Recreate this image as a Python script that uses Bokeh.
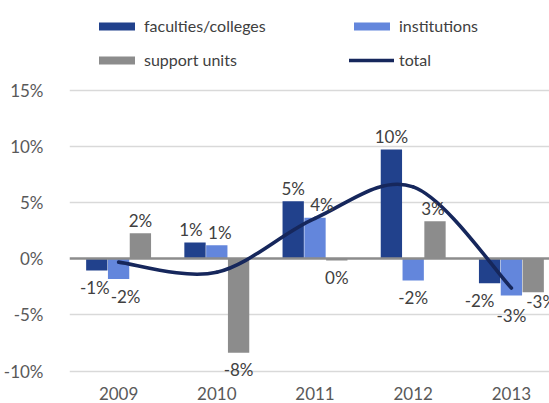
import numpy as np
from bokeh.plotting import figure
from bokeh.models import (ColumnDataSource, Range1d, FixedTicker, PrintfTickFormatter,
                          Legend, LegendItem)
from bokeh.embed import file_html
from bokeh.resources import INLINE
from bokeh.core.properties import value

# ---- data ----
years = ["2009", "2010", "2011", "2012", "2013"]
faculties = [-1.04, 1.45, 5.12, 9.72, -2.17]
institutions = [-1.80, 1.21, 3.65, -1.93, -3.27]
support = [2.28, -8.36, -0.15, 3.35, -2.97]
total = [-0.3, -1.2, 3.6, 6.4, -2.6]

# label nudges (px) to mimic the reference's label placement
nudge_x = {"fac": [-2, -4, 0, 0, -10], "ins": [7, 3, 7, 0, 0], "sup": [0, 0, 0, -2, 8]}
nudge_y = {"fac": [0, 0, 0, 0, 0], "ins": [0, 0, 0, 0, 3], "sup": [0, 0, 0, 0, -8]}

C_FAC = "#21418c"
C_INS = "#6386dc"
C_SUP = "#8c8c8c"
C_TOT = "#16275c"
FONT = "Lato"

x = np.arange(len(years))
p = figure(width=549, height=403, output_backend="svg", toolbar_location=None,
           x_range=Range1d(-0.5, 4.388), y_range=Range1d(-10.83, 22.98),
           min_border_left=67, min_border_right=0, min_border_top=0, min_border_bottom=23)
p.outline_line_color = None
p.background_fill_color = None
p.border_fill_color = None

# axes
p.xaxis.ticker = FixedTicker(ticks=list(x))
p.xaxis.major_label_overrides = {int(i): y for i, y in zip(x, years)}
p.yaxis.ticker = FixedTicker(ticks=[-10, -5, 0, 5, 10, 15])
p.yaxis.formatter = PrintfTickFormatter(format="%d%%")
for ax in (p.xaxis[0], p.yaxis[0]):
    ax.axis_line_color = None
    ax.major_tick_line_color = None
    ax.minor_tick_line_color = None
    ax.major_label_text_font = FONT
    ax.major_label_text_font_size = "17px"
    ax.major_label_text_color = "#595959"
p.yaxis.major_label_standoff = 20
p.xaxis.major_label_standoff = 0
p.xgrid.grid_line_color = None
p.ygrid.grid_line_color = "#d9d9d9"
p.ygrid.grid_line_width = 1.3
p.ygrid.ticker = FixedTicker(ticks=[-10, -5, 5, 10, 15])

bw = 0.217
off = 0.222
r_fac = p.vbar(x=x - off, top=faculties, bottom=0, width=bw, fill_color=C_FAC, line_color=None)
r_ins = p.vbar(x=x, top=institutions, bottom=0, width=bw, fill_color=C_INS, line_color=None)
r_sup = p.vbar(x=x + off, top=support, bottom=0, width=bw, fill_color=C_SUP, line_color=None)

# zero line
p.hspan(y=[0], line_color="#8c8c8c", line_width=2.6)

# smoothed total line (Catmull-Rom style bezier through the data points)
t = np.array(total, dtype=float)
xs = x.astype(float)
n = len(t)
x0, y0, x1, y1, cx0, cy0, cx1, cy1 = ([] for _ in range(8))
for i in range(n - 1):
    ip = max(i - 1, 0)
    inn = min(i + 2, n - 1)
    x0.append(xs[i]); y0.append(t[i]); x1.append(xs[i + 1]); y1.append(t[i + 1])
    cx0.append(xs[i] + (xs[i + 1] - xs[ip]) / 6); cy0.append(t[i] + (t[i + 1] - t[ip]) / 6)
    cx1.append(xs[i + 1] - (xs[inn] - xs[i]) / 6); cy1.append(t[i + 1] - (t[inn] - t[i]) / 6)
r_tot = p.bezier(x0=x0, y0=y0, x1=x1, y1=y1, cx0=cx0, cy0=cy0, cx1=cx1, cy1=cy1,
                 line_color=C_TOT, line_width=3.6, line_cap="round")

# data labels
def fmt(v):
    r = int(round(v))
    return f"{r}%"

for key, vals, dx in (("fac", faculties, -off), ("ins", institutions, 0), ("sup", support, off)):
    src = ColumnDataSource(dict(
        x=x + dx, y=vals, text=[fmt(v) for v in vals],
        xo=nudge_x[key],
        yo=[(-13 if v >= 0 else 17) + ny for v, ny in zip(vals, nudge_y[key])],
    ))
    p.text(x="x", y="y", text="text", x_offset="xo", y_offset="yo", source=src,
           text_font=value(FONT), text_font_size="17px", text_color="#404040",
           text_align="center", text_baseline="alphabetic")

# legends (two columns)
def mk_legend(items, xloc):
    lg = Legend(items=items, location=(xloc, 311), orientation="vertical",
                glyph_width=45, glyph_height=10, label_standoff=5, spacing=15,
                padding=0, margin=0, border_line_color=None, background_fill_alpha=0,
                label_text_font=FONT, label_text_font_size="16px", label_text_color="#404040")
    p.add_layout(lg, "center")

mk_legend([LegendItem(label="faculties/colleges", renderers=[r_fac]),
           LegendItem(label="support units", renderers=[r_sup])], 25)
mk_legend([LegendItem(label="institutions", renderers=[r_ins], index=0),
           LegendItem(label="total", renderers=[r_tot], index=0)], 280)

open("out.html", "w").write(file_html(p, INLINE))
